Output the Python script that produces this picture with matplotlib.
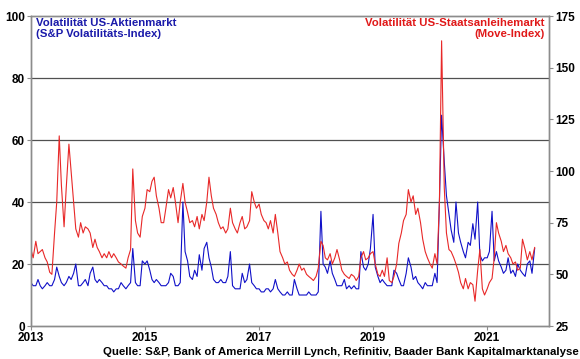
import matplotlib
matplotlib.use("Agg")
import matplotlib.pyplot as plt
import pandas as pd

# Halbmonatswerte (1. und 15.), Jan 2013 - Nov 2021
dates = pd.date_range("2013-01-01", "2021-11-01", freq="SMS")

vix = [
    # 2013
    14, 13, 13, 15, 13, 12, 13, 14, 13, 13, 15, 19, 16, 14, 13, 14, 16, 15, 17, 20, 13, 13, 14, 15,
    # 2014
    13, 17, 19, 15, 14, 15, 14, 13, 13, 12, 12, 11, 12, 12, 14, 13, 12, 13, 14, 25, 14, 13, 13, 21,
    # 2015
    20, 21, 18, 15, 14, 15, 14, 13, 13, 13, 14, 17, 16, 13, 13, 14, 40, 24, 21, 16, 15, 18, 16, 23,
    # 2016
    18, 25, 27, 22, 19, 15, 14, 14, 15, 14, 14, 16, 24, 13, 12, 12, 12, 17, 14, 15, 20, 14, 13, 12,
    # 2017
    12, 11, 11, 12, 12, 11, 12, 15, 12, 11, 10, 10, 11, 10, 10, 15, 12, 10, 10, 10, 10, 11, 10, 10,
    # 2018
    10, 11, 37, 20, 19, 17, 21, 17, 15, 13, 13, 13, 15, 12, 13, 12, 13, 12, 12, 24, 19, 18, 20, 25,
    # 2019
    36, 19, 16, 14, 15, 14, 13, 13, 13, 18, 17, 15, 13, 13, 17, 22, 19, 15, 16, 14, 13, 12, 14, 13,
    # 2020
    13, 13, 17, 14, 40, 68, 53, 42, 36, 31, 27, 40, 30, 27, 24, 22, 27, 26, 33, 28, 40, 23, 21, 22,
    # 2021
    22, 24, 37, 21, 24, 21, 19, 17, 18, 22, 17, 18, 16, 20, 18, 17, 16, 20, 21, 17, 25,
]

move = [
    # 2013
    62, 58, 66, 60, 61, 62, 58, 56, 51, 50, 70, 85, 117, 93, 73, 92, 113, 100, 85, 72, 68, 75, 70, 73,
    # 2014
    72, 70, 63, 67, 63, 61, 58, 60, 58, 61, 58, 60, 58, 56, 55, 54, 53, 58, 62, 101, 76, 70, 68, 78,
    # 2015
    82, 91, 90, 95, 97, 88, 82, 75, 75, 82, 91, 87, 92, 85, 75, 85, 94, 85, 80, 75, 76, 73, 78, 72,
    # 2016
    79, 76, 85, 97, 88, 82, 79, 75, 72, 73, 70, 72, 82, 75, 72, 70, 75, 78, 72, 73, 76, 90, 85, 82,
    # 2017
    84, 79, 76, 75, 72, 76, 70, 79, 70, 61, 58, 55, 56, 52, 50, 49, 52, 55, 52, 53, 50, 49, 48, 47,
    # 2018
    49, 53, 66, 64, 58, 57, 60, 55, 58, 62, 57, 52, 50, 49, 48, 50, 49, 47, 49, 58, 61, 57, 58, 60,
    # 2019
    61, 55, 50, 49, 52, 49, 58, 47, 46, 49, 55, 65, 70, 76, 79, 91, 85, 88, 79, 82, 75, 67, 61, 58,
    # 2020
    55, 53, 60, 55, 85, 163, 92, 70, 62, 61, 58, 55, 51, 46, 43, 48, 43, 46, 45, 37, 52, 62, 43, 40,
    # 2021
    43, 46, 48, 58, 75, 70, 66, 61, 64, 60, 58, 55, 56, 52, 53, 67, 62, 57, 61, 57, 63,
]

left_ticks = [0, 20, 40, 60, 80, 100]
right_ticks = [25, 50, 75, 100, 125, 150, 175]
year_ticks = ["2013", "2015", "2017", "2019", "2021"]

assert len(vix) == len(dates) and len(move) == len(dates)

plt.rcParams["font.family"] = ["Liberation Sans", "DejaVu Sans"]
plt.rcParams["font.weight"] = "bold"

fig = plt.figure(figsize=(5.8, 3.59), dpi=100)
ax = fig.add_axes([0.0534, 0.0919, 0.8932, 0.8635])
ax2 = ax.twinx()

ax.plot(dates, vix, color="#1010c8", lw=0.8)
ax2.plot(dates, move, color="#e82828", lw=0.8)

ax.set_ylim(0, 100)
ax2.set_ylim(25, 175)
ax.set_xlim(pd.Timestamp("2013-01-01"), pd.Timestamp("2022-02-01"))

ax.set_yticks(left_ticks)
ax2.set_yticks(right_ticks)
ax.set_xticks([pd.Timestamp(y + "-01-01") for y in year_ticks])
ax.set_xticklabels(year_ticks)

for g in left_ticks[1:-1]:
    ax.axhline(g, color="#505050", lw=0.9, zorder=0)

for a in (ax, ax2):
    for s in a.spines.values():
        s.set_color("#8c8c8c")
        s.set_linewidth(1.0)
    a.tick_params(labelsize=8.5, length=3, width=0.8, color="#8c8c8c", pad=1.5)

ax.text(0.01, 0.993, "Volatilität US-Aktienmarkt\n(S&P Volatilitäts-Index)",
        transform=ax.transAxes, ha="left", va="top", color="#1a1aaa",
        fontsize=8.2, fontweight="bold", linespacing=1.15)
ax.text(0.992, 0.993, "Volatilität US-Staatsanleihemarkt\n(Move-Index)",
        transform=ax.transAxes, ha="right", va="top", color="#e01818",
        fontsize=8.2, fontweight="bold", linespacing=1.15, multialignment="right")

fig.text(0.997, 0.006, "Quelle: S&P, Bank of America Merrill Lynch, Refinitiv, Baader Bank Kapitalmarktanalyse",
         ha="right", va="bottom", fontsize=8.2, fontweight="bold")

fig.savefig("out.png", dpi=100)
